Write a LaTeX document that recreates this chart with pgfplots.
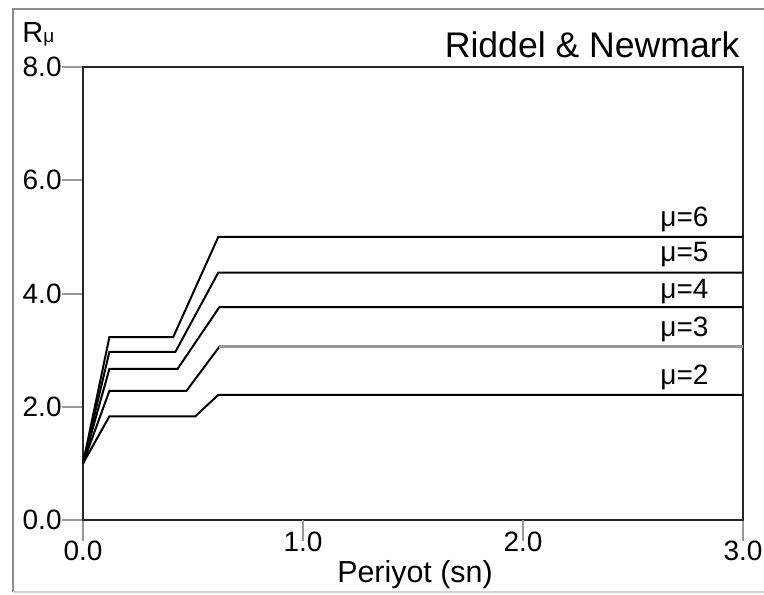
\documentclass[border=0pt]{standalone}
\usepackage{fontspec}
\setmainfont{Liberation Sans}
\usepackage{pgfplots}
\pgfplotsset{compat=1.18}

\begin{document}
\begin{tikzpicture}
\path[use as bounding box] (-41.5pt,-37pt) rectangle (340.5pt,260pt);
% outer panel frame
\draw[line width=1pt, color=black!45] (-35.2pt,-35.9pt) -- (-35.2pt,255.7pt) -- (360pt,255.7pt);
\draw[line width=0.8pt, color=black!18] (-35.2pt,-35.9pt) -- (360pt,-35.9pt);
\begin{axis}[
  scale only axis, width=330pt, height=226.5pt,
  xmin=0, xmax=3, ymin=0, ymax=8,
  clip=false,
  axis line style={line width=1pt, color=black!85},
  tick align=outside, tick pos=left,
  major tick length=10.5pt,
  tick style={line width=1pt, color=black!40},
  xtick={0,3}, ytick={0,2,4,6,8},
  extra x ticks={1,2},
  extra x tick style={xticklabel style={yshift=4.5pt}},
  /pgf/number format/fixed,
  /pgf/number format/fixed zerofill,
  /pgf/number format/precision=1,
  /pgf/number format/assume math mode=true,
  ticklabel style={font=\fontsize{14}{16}\selectfont, inner sep=0pt},
  yticklabel style={anchor=east},
  xticklabel style={anchor=north},
  xlabel={Periyot (sn)},
  xlabel style={at={(axis description cs:0.5,0)}, anchor=base, yshift=-31pt, xshift=1pt,
    inner sep=0pt, font=\fontsize{15.2}{18}\selectfont},
]
% mu = 6
\addplot[black, line width=1pt] coordinates {(0,1) (0.12,3.23) (0.41,3.23) (0.615,5.00) (3,5.00)};
% mu = 5
\addplot[black, line width=1pt] coordinates {(0,1) (0.12,2.97) (0.42,2.97) (0.615,4.37) (3,4.37)};
% mu = 4
\addplot[black, line width=1pt] coordinates {(0,1) (0.12,2.67) (0.43,2.67) (0.62,3.76) (3,3.76)};
% mu = 3 (the constant branch is drawn in grey)
\addplot[black, line width=1pt] coordinates {(0,1) (0.12,2.28) (0.47,2.28) (0.62,3.06)};
\addplot[black!40, line width=1.4pt] coordinates {(0.62,3.06) (3,3.06)};
% mu = 2
\addplot[black, line width=1pt] coordinates {(0,1) (0.12,1.83) (0.51,1.83) (0.615,2.21) (3,2.21)};

\begin{scope}[every node/.style={anchor=base east, inner sep=0pt, font=\fontsize{14}{16}\selectfont}]
\node at (axis cs:2.845,5.19) {μ=6};
\node at (axis cs:2.845,4.56) {μ=5};
\node at (axis cs:2.845,3.92) {μ=4};
\node at (axis cs:2.845,3.24) {μ=3};
\node at (axis cs:2.845,2.385) {μ=2};
\end{scope}

\node[anchor=base east, inner sep=0pt, font=\fontsize{17.8}{21}\selectfont]
  at (rel axis cs:1,1) [xshift=-1.5pt, yshift=5pt] {Riddel \& Newmark};
\end{axis}
\node[anchor=base west, inner sep=0pt, font=\fontsize{14.5}{17}\selectfont]
  at (-30.5pt,238.5pt) {R{\fontsize{9.5}{11}\selectfont μ}};
\end{tikzpicture}
\end{document}
